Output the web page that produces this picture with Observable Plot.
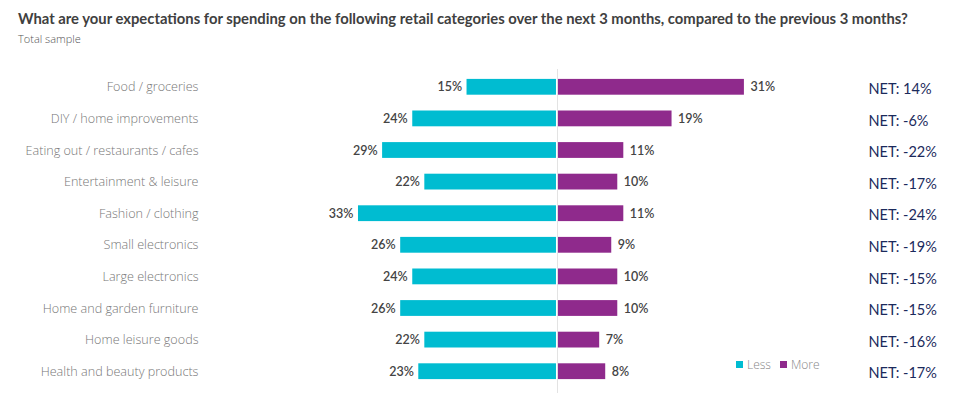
<!DOCTYPE html>
<html>
<head>
<meta charset="utf-8">
<script src="https://cdn.jsdelivr.net/npm/d3@7"></script>
<script src="https://cdn.jsdelivr.net/npm/@observablehq/plot@0.6"></script>
<style>
  body { margin: 0; background: #fff; }
  #wrap { position: relative; width: 976px; height: 396px; overflow: hidden; }
  #title { position: absolute; left: 18px; top: 9px; font: bold 14.8px Lato, sans-serif; color: #404040; line-height: 18px; white-space: nowrap; }
  #subtitle { position: absolute; left: 18px; top: 32px; font: 300 11px "Open Sans", sans-serif; color: #555; line-height: 13px; }
  #chart { position: absolute; left: 0; top: 50px; }
  #legend { position: absolute; left: 736px; top: 356px; font: 300 12px "Open Sans", sans-serif; color: #888; display: flex; align-items: center; white-space: nowrap; }
  #legend span.sw { display: inline-block; width: 7px; height: 7px; margin-right: 4px; }
  #legend span.lab { margin-right: 9px; }
</style>
</head>
<body>
<div id="wrap">
  <div id="title">What are your expectations for spending on the following retail categories over the next 3 months, compared to the previous 3 months?</div>
  <div id="subtitle">Total sample</div>
  <div id="chart"></div>
  <div id="legend"></div>
</div>
<script>
const categories = [
  "Food / groceries",
  "DIY / home improvements",
  "Eating out / restaurants / cafes",
  "Entertainment & leisure",
  "Fashion / clothing",
  "Small electronics",
  "Large electronics",
  "Home and garden furniture",
  "Home leisure goods",
  "Health and beauty products"
];
const less = [15, 24, 29, 22, 33, 26, 24, 26, 22, 23];
const more = [31, 19, 11, 10, 11, 9, 10, 10, 7, 8];
const net = [14, -6, -22, -17, -24, -19, -15, -15, -16, -17];
const seriesNames = ["Less", "More"];
const colors = ["#00bcd1", "#8f2a8c"];

const rows = categories.map((c, i) => ({category: c, less: less[i], more: more[i], net: net[i]}));

const chart = Plot.plot({
  width: 976,
  height: 346,
  marginLeft: 200,
  marginRight: 0,
  marginTop: 21,
  marginBottom: 9,
  x: {domain: [-59.2, 69.49], axis: null},
  y: {domain: categories, paddingInner: 0.5, paddingOuter: 0.25, round: false, label: null},
  style: {fontFamily: "Lato, sans-serif", background: "#fff", overflow: "visible"},
  marks: [
    Plot.ruleX([0], {stroke: "#e3e3e3", strokeWidth: 1, insetTop: -2, insetBottom: -6}),
    Plot.barX(rows, {y: "category", x1: d => -d.less, x2: 0, fill: colors[0], insetRight: 1}),
    Plot.barX(rows, {y: "category", x1: 0, x2: "more", fill: colors[1], insetLeft: 1}),
    Plot.text(rows, {y: "category", x: d => -d.less, text: d => d.less + "%", textAnchor: "end", dx: -5, fill: "#444", fontSize: 12.5, fontWeight: 600}),
    Plot.text(rows, {y: "category", x: "more", text: d => d.more + "%", textAnchor: "start", dx: 6, fill: "#444", fontSize: 12.5, fontWeight: 600}),
    Plot.text(rows, {y: "category", frameAnchor: "right", text: d => "NET: " + d.net + "%", textAnchor: "start", dx: -108, dy: 2, fill: "#1b2a5c", fontSize: 14.5}),
    Plot.axisY({tickSize: 0, tickPadding: 2, fontSize: 12.6, fontFamily: "Open Sans, sans-serif", fontWeight: 300, color: "#777", label: null})
  ]
});
document.getElementById("chart").appendChild(chart);

const legend = document.getElementById("legend");
seriesNames.forEach((name, i) => {
  const sw = document.createElement("span");
  sw.className = "sw";
  sw.style.background = colors[i];
  const lab = document.createElement("span");
  lab.className = "lab";
  lab.textContent = name;
  legend.appendChild(sw);
  legend.appendChild(lab);
});
</script>
</body>
</html>
